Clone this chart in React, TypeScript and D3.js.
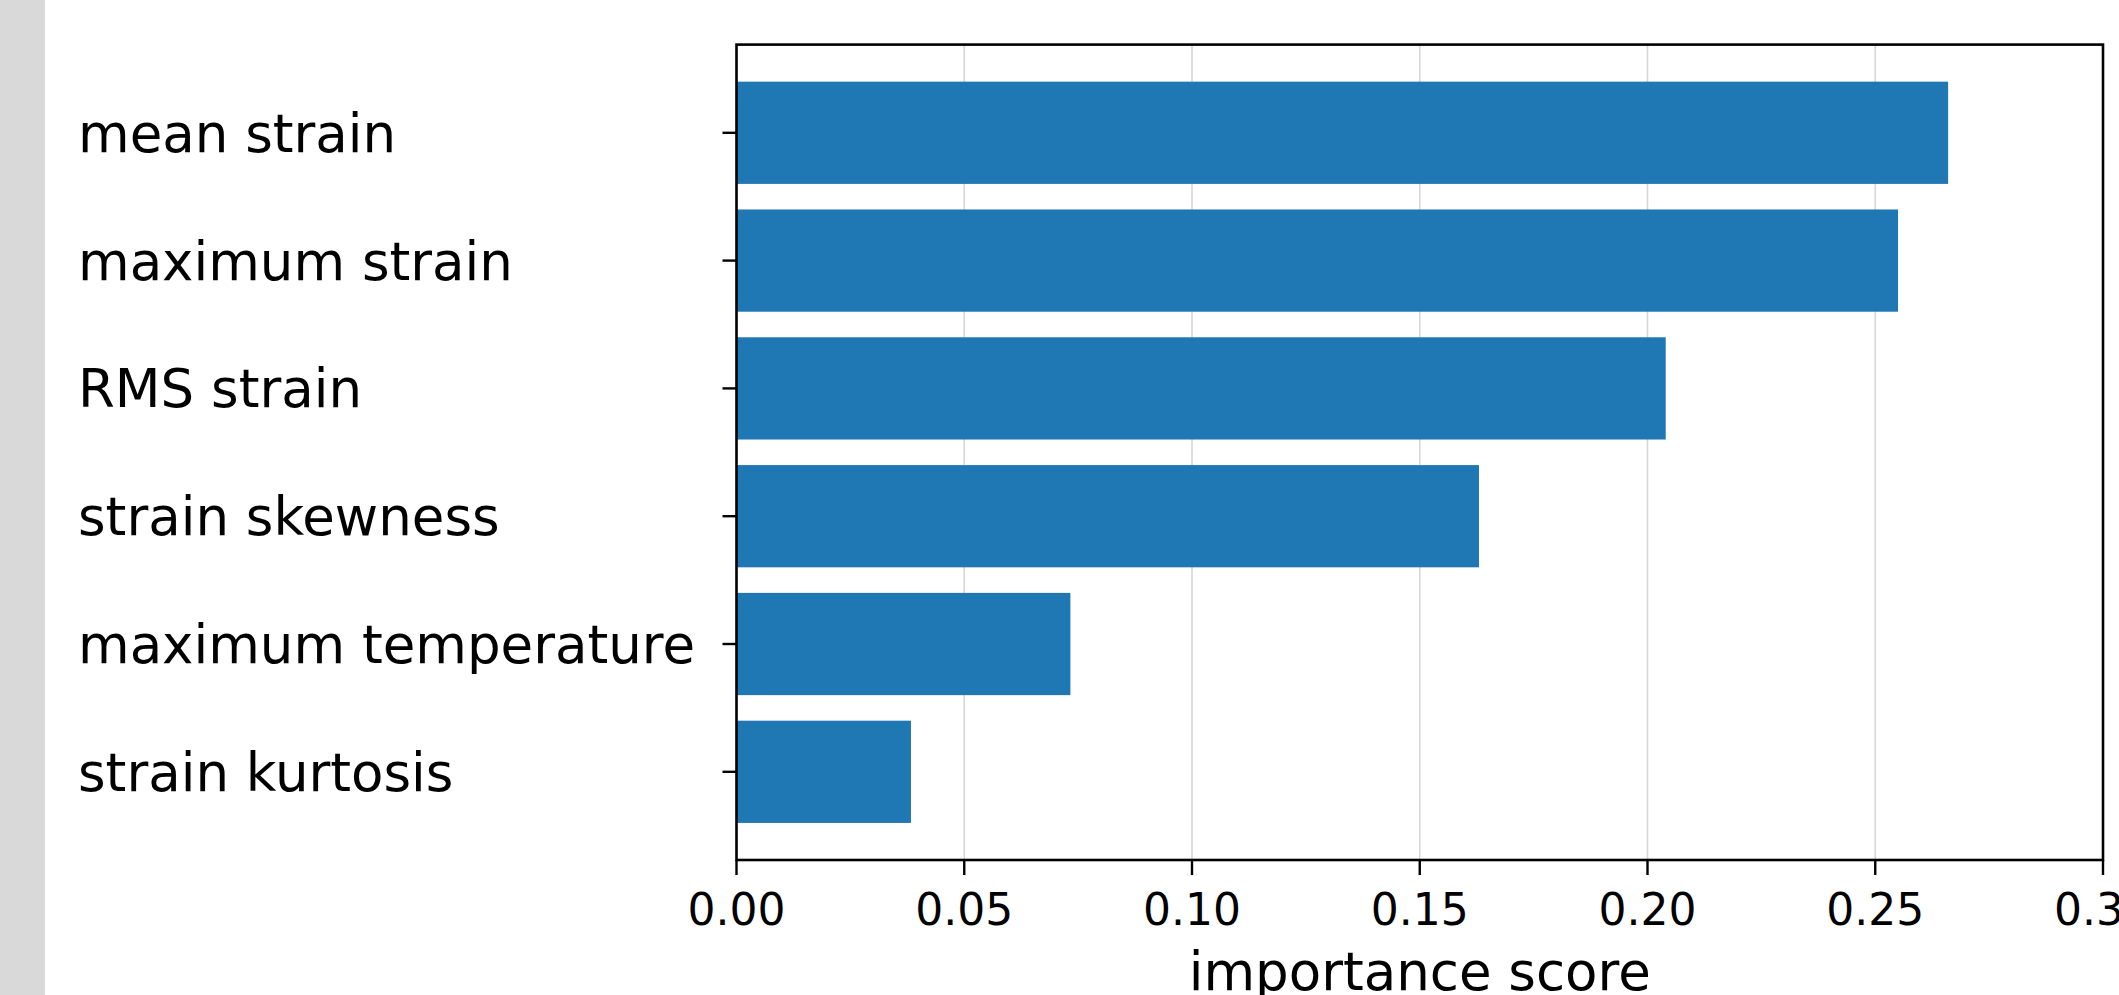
import * as d3 from 'd3';

const features = [
  'mean strain',
  'maximum strain',
  'RMS strain',
  'strain skewness',
  'maximum temperature',
  'strain kurtosis',
];
const scores = [0.266, 0.255, 0.204, 0.163, 0.0733, 0.0383];
const xTicks = [0, 0.05, 0.1, 0.15, 0.2, 0.25, 0.3];
const xLabel = 'importance score';

const W = 2119;
const H = 995;
const FONT = '"DejaVu Sans", sans-serif';

export default function App() {
  const left = 736.5;
  const right = 2103;
  const top = 44.6;
  const bottom = 860;

  const x = d3.scaleLinear().domain([0, 0.3]).range([left, right]);
  // matplotlib barh: first item at the bottom, so reverse; 5% margins
  const n = features.length;
  const y = d3
    .scaleLinear()
    .domain([-0.4 - 0.29, n - 1 + 0.4 + 0.29])
    .range([bottom, top]);
  const barH = y(0) - y(0.8);
  const pos = (i: number) => n - 1 - i;

  return (
    <svg
      width={W}
      height={H}
      viewBox={`0 0 ${W} ${H}`}
      style={{ position: 'fixed', left: 0, top: 0, background: '#fff' }}
    >
      <rect x={0} y={0} width={W} height={H} fill="#fff" />
      <rect x={0} y={0} width={45} height={H} fill="#d9d9d9" />

      {/* grid */}
      {xTicks.map((t) => (
        <line
          key={'g' + t}
          x1={x(t)}
          x2={x(t)}
          y1={top}
          y2={bottom}
          stroke="#d6d6d6"
          strokeWidth={1.6}
        />
      ))}

      {/* bars */}
      {features.map((f, i) => (
        <rect
          key={f}
          x={x(0)}
          y={y(pos(i)) - barH / 2}
          width={x(scores[i]) - x(0)}
          height={barH}
          fill="#1f77b4"
        />
      ))}

      {/* frame */}
      <rect
        x={left}
        y={top}
        width={right - left}
        height={bottom - top}
        fill="none"
        stroke="#000"
        strokeWidth={2.6}
      />

      {/* y ticks + labels (left aligned) */}
      {features.map((f, i) => (
        <g key={'y' + f}>
          <line
            x1={left - 14}
            x2={left}
            y1={y(pos(i))}
            y2={y(pos(i))}
            stroke="#000"
            strokeWidth={2.4}
          />
          <text
            x={78}
            y={y(pos(i))}
            dy="0.36em"
            textAnchor="start"
            fontFamily={FONT}
            fontSize={53}
            fill="#000"
          >
            {f}
          </text>
        </g>
      ))}

      {/* x ticks + labels */}
      {xTicks.map((t) => (
        <g key={'x' + t}>
          <line
            x1={x(t)}
            x2={x(t)}
            y1={bottom}
            y2={bottom + 15}
            stroke="#000"
            strokeWidth={2.4}
          />
          <text
            x={x(t)}
            y={925}
            textAnchor="middle"
            fontFamily={FONT}
            fontSize={44}
            fill="#000"
          >
            {d3.format('.2f')(t)}
          </text>
        </g>
      ))}

      <text
        x={(left + right) / 2}
        y={990}
        textAnchor="middle"
        fontFamily={FONT}
        fontSize={53}
        fill="#000"
      >
        {xLabel}
      </text>
    </svg>
  );
}
